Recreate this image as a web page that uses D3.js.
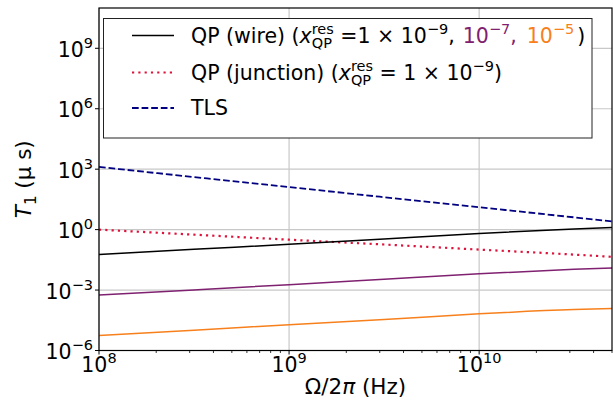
<!DOCTYPE html>
<html><head><meta charset="utf-8">
<script src="https://cdn.jsdelivr.net/npm/d3@7"></script>
<style>body{margin:0;background:#fff}svg{display:block}text{font-family:"DejaVu Sans",sans-serif}</style>
</head><body><svg id="c" width="613" height="403"></svg>
<script>
// Frequencies (Hz) and T1 values (µs)
const freq      = [1e8, 3.16e8, 1e9, 3.16e9, 1e10, 3.16e10, 5e10];
const wire1e9   = [0.0575, 0.105, 0.186, 0.347, 0.646, 1.07, 1.26];
const wire1e7   = [5.62e-4, 1.02e-3, 1.86e-3, 3.47e-3, 6.46e-3, 1.07e-2, 1.26e-2];
const wire1e5   = [5.62e-6, 1.02e-5, 1.91e-5, 3.47e-5, 6.61e-5, 1.07e-4, 1.20e-4];
const junction  = [1.0, 0.562, 0.316, 0.182, 0.102, 0.0575, 0.0447];
const tls       = [1288, 407, 129, 40.7, 12.9, 4.07, 2.57];
const xTickExp  = [8, 9, 10];
const yTickExp  = [-6, -3, 0, 3, 6, 9];

const svg = d3.select("#c");
const L = 99, R = 612, T = 8, B = 350.5;
const x = d3.scaleLog().domain([1e8, 5e10]).range([L, R]);
const y = d3.scaleLog().domain([1e-6, 1e11]).range([B, T]);

// grid
const grid = svg.append("g").attr("stroke", "#c8c8c8").attr("stroke-width", 1.2);
xTickExp.forEach(e => grid.append("line").attr("x1", x(10 ** e)).attr("x2", x(10 ** e)).attr("y1", T).attr("y2", B));
yTickExp.forEach(e => grid.append("line").attr("x1", L).attr("x2", R).attr("y1", y(10 ** e)).attr("y2", y(10 ** e)));

// series
const series = [
  {v: tls, color: "#000080", w: 1.8, dash: "6.7,2.9"},
  {v: junction, color: "#dc143c", w: 2.2, dash: "2.2,4.1"},
  {v: wire1e9, color: "#000000", w: 1.5, dash: null},
  {v: wire1e7, color: "#7f2170", w: 1.5, dash: null},
  {v: wire1e5, color: "#f7801c", w: 1.5, dash: null}
];
const line = d3.line().x(d => x(d[0])).y(d => y(d[1])).curve(d3.curveMonotoneX);
const plot = svg.append("g");
series.forEach(s => {
  plot.append("path").attr("d", line(freq.map((f, i) => [f, s.v[i]])))
    .attr("fill", "none").attr("stroke", s.color).attr("stroke-width", s.w)
    .attr("stroke-dasharray", s.dash);
});

// frame
svg.append("rect").attr("x", L).attr("y", T).attr("width", R - L).attr("height", B - T)
  .attr("fill", "none").attr("stroke", "#000").attr("stroke-width", 1.2);

// ticks
const tk = svg.append("g").attr("stroke", "#000").attr("stroke-width", 1);
xTickExp.forEach(e => tk.append("line").attr("x1", x(10 ** e)).attr("x2", x(10 ** e)).attr("y1", B).attr("y2", B + 4));
x.ticks().filter(v => Math.abs(Math.log10(v) - Math.round(Math.log10(v))) > 1e-6)
  .forEach(v => tk.append("line").attr("x1", x(v)).attr("x2", x(v)).attr("y1", B).attr("y2", B + 2.5).attr("stroke-width", 0.8));
yTickExp.forEach(e => tk.append("line").attr("y1", y(10 ** e)).attr("y2", y(10 ** e)).attr("x1", L).attr("x2", L - 4));

function expLabel(g, px, py, e, anchor) {
  const t = g.append("text").attr("x", px).attr("y", py).attr("text-anchor", anchor)
    .attr("font-size", 20.5).attr("fill", "#000");
  t.append("tspan").text("10");
  t.append("tspan").attr("dy", -9).attr("font-size", 14.5).text(String(e).replace("-", "\u2212"));
}
const lab = svg.append("g");
xTickExp.forEach(e => expLabel(lab, x(10 ** e), 372, e, "middle"));
yTickExp.forEach(e => expLabel(lab, 93, y(10 ** e) + 8.5, e, "end"));

// axis titles
const xt = svg.append("text").attr("x", (L + R) / 2).attr("y", 394).attr("text-anchor", "middle").attr("font-size", 21.5);
xt.append("tspan").text("\u03A9/2");
xt.append("tspan").attr("font-style", "italic").text("\u03C0");
xt.append("tspan").text(" (Hz)");
const yt = svg.append("text").attr("transform", `translate(31,${(T + B) / 2}) rotate(-90)`).attr("text-anchor", "middle").attr("font-size", 21.5);
yt.append("tspan").attr("font-style", "italic").text("T");
yt.append("tspan").attr("dy", 5).attr("font-size", 15).text("1");
yt.append("tspan").attr("dy", -5).text(" (\u03BC s)");

// legend
const lg = svg.append("g");
lg.append("rect").attr("x", 103.5).attr("y", 18.5).attr("width", 488.5).attr("height", 119.5)
  .attr("fill", "#fff").attr("stroke", "#222").attr("stroke-width", 1);
const rows = [35.5, 72.5, 108];
series.slice(0, 3).reverse().forEach((s, i) => {
  lg.append("line").attr("x1", 132).attr("x2", 174).attr("y1", rows[i]).attr("y2", rows[i])
    .attr("stroke", s.color).attr("stroke-width", s.w).attr("stroke-dasharray", s.dash);
});
function rich(g, x0, y0, pieces) {
  let cx = x0, lastStart = x0, lastW = 0;
  pieces.forEach(p => {
    const px = (p.stack ? lastStart : cx) + (p.dx || 0);
    const t = g.append("text").attr("x", px).attr("y", y0 + (p.dy || 0))
      .attr("font-size", p.size || 20.5).attr("fill", p.fill || "#000")
      .attr("font-style", p.it ? "italic" : "normal").style("white-space", "pre").text(p.t);
    const w = t.node().getComputedTextLength();
    if (p.stack) { cx = px + Math.max(w, lastW); }
    else { lastStart = px; lastW = w; cx = px + w; }
  });
}
const purple = "#7f2170", orange = "#f7801c";
rich(lg, 191, 43, [
  {t: "QP (wire) ("}, {t: "x", it: true},
  {t: "res", size: 14.5, dy: -9.5}, {t: "QP", size: 14.5, dy: 5, stack: true},
  {t: " =1 \u00D7 10"}, {t: "\u22129", size: 14.5, dy: -9}, {t: ","},
  {t: "10", fill: purple, dx: 8}, {t: "\u22127", size: 14.5, dy: -9, fill: purple}, {t: ",", fill: purple},
  {t: "10", fill: orange, dx: 10}, {t: "\u22125", size: 14.5, dy: -9, fill: orange}, {t: ")", dx: 3}
]);
rich(lg, 191, 80, [
  {t: "QP (junction) ("}, {t: "x", it: true},
  {t: "res", size: 14.5, dy: -9.5}, {t: "QP", size: 14.5, dy: 5, stack: true},
  {t: " = 1 \u00D7 10"}, {t: "\u22129", size: 14.5, dy: -9}, {t: ")"}
]);
rich(lg, 191, 115, [{t: "TLS"}]);
</script></body></html>
